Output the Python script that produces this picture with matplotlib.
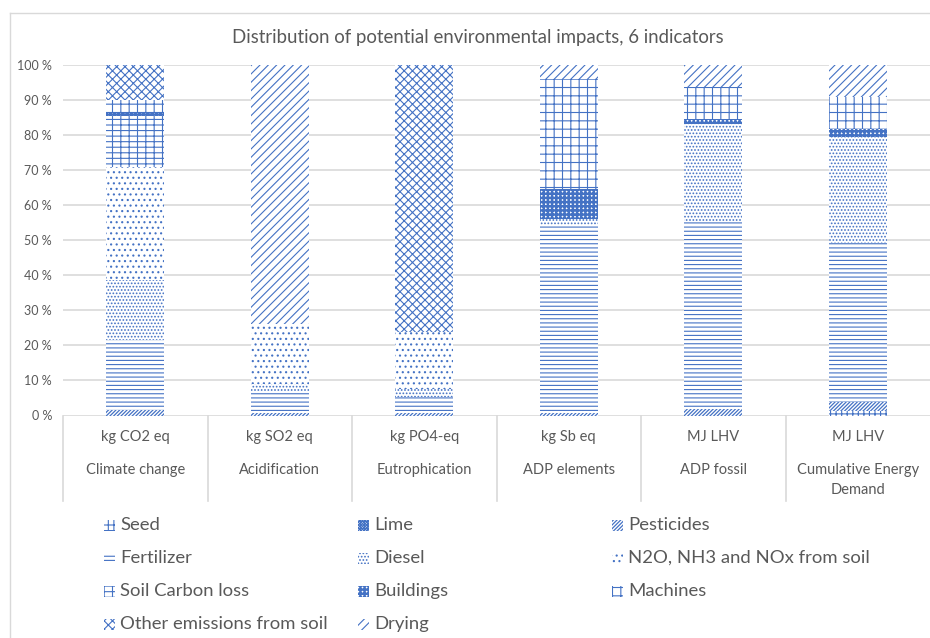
import matplotlib
matplotlib.use("Agg")
import matplotlib.pyplot as plt
from matplotlib.patches import Rectangle
from matplotlib.lines import Line2D
from matplotlib.transforms import blended_transform_factory
import numpy as np

# ---- data -------------------------------------------------------------
units = ["kg CO2 eq", "kg SO2 eq", "kg PO4-eq", "kg Sb eq", "MJ LHV", "MJ LHV"]
indicators = ["Climate change", "Acidification", "Eutrophication",
              "ADP elements", "ADP fossil", "Cumulative Energy\nDemand"]

sources = ["Seed", "Lime", "Pesticides", "Fertilizer", "Diesel",
           "N2O, NH3 and NOx from soil", "Soil Carbon loss", "Buildings",
           "Machines", "Other emissions from soil", "Drying"]

# share of each source per indicator, in percent
seed        = [0.0, 0.0, 0.0, 0.0, 0.0, 1.3]
lime        = [0.0, 0.0, 0.0, 0.0, 0.0, 0.0]
pesticides  = [1.6, 0.7, 0.8, 0.8, 1.8, 2.5]
fertilizer  = [19.8, 6.0, 4.4, 53.5, 53.7, 45.5]
diesel      = [17.2, 2.3, 2.3, 1.9, 27.8, 30.2]
soil_n      = [32.4, 17.2, 16.3, 0.0, 0.0, 0.0]
soil_carbon = [14.4, 0.0, 0.0, 0.0, 0.0, 0.0]
buildings   = [0.8, 0.0, 0.0, 8.3, 1.3, 2.1]
machines    = [3.8, 0.0, 0.0, 31.4, 9.2, 9.4]
other_soil  = [10.0, 0.0, 76.2, 0.0, 0.0, 0.0]
drying      = [0.0, 73.8, 0.0, 4.1, 6.2, 9.0]

series = [seed, lime, pesticides, fertilizer, diesel, soil_n,
          soil_carbon, buildings, machines, other_soil, drying]

y_ticks = [0, 10, 20, 30, 40, 50, 60, 70, 80, 90, 100]

# ---- styles -----------------------------------------------------------
BLUE = "#4472C4"
TEXT = "#595959"
GRID = "#D9D9D9"
FONT = "Lato"

hatches = ["+++", "xxxxxxxxxxxx", "/////////", "----", ".....", "...",
           "++-", "++++", "++", "xxxx", "////"]
hatch_lw = [0.8, 0.8, 0.9, 0.8, 0.8, 0.8, 0.8, 1.8, 0.8, 0.8, 0.8]

W, H = 930, 638
fig = plt.figure(figsize=(W / 100, H / 100), dpi=100)
plt.rcParams["hatch.linewidth"] = 0.8


def fx(px):
    return px / W


def fy(py):
    return 1 - py / H


ax_left, ax_right, ax_top, ax_bottom = 63, 930, 65, 415.5
ax = fig.add_axes([fx(ax_left), fy(ax_bottom), fx(ax_right - ax_left),
                   (ax_bottom - ax_top) / H])

x = np.arange(len(units))
bottom = np.zeros(len(units))
for vals, hatch, lw in zip(series, hatches, hatch_lw):
    with plt.rc_context({"hatch.linewidth": lw}):
        bars = ax.bar(x, vals, width=0.4, bottom=bottom, color="white",
                      edgecolor=BLUE, linewidth=0, hatch=hatch, zorder=3)
        for b in bars:
            if hasattr(b, "set_hatch_linewidth"):
                b.set_hatch_linewidth(lw)
    bottom = bottom + np.array(vals)

ax.set_xlim(-0.5, len(units) - 0.5)
ax.set_ylim(0, 100)
ax.set_yticks(y_ticks)
ax.set_yticklabels([f"{t} %" for t in y_ticks], fontfamily=FONT,
                   fontsize=9, color=TEXT)
ax.tick_params(axis="y", length=0, pad=8)
ax.set_xticks([])
for s in ax.spines.values():
    s.set_visible(False)
ax.grid(axis="y", color=GRID, linewidth=1.2, zorder=0)
ax.set_axisbelow(True)

# category separators under the plot area
for i in range(len(units)):
    ax.add_line(Line2D([i - 0.5, i - 0.5], [0, -24.5], color=GRID,
                       linewidth=1.2, clip_on=False))

tr = blended_transform_factory(ax.transData, fig.transFigure)
for i, (u, name) in enumerate(zip(units, indicators)):
    ax.text(i, fy(437), u, transform=tr, ha="center", va="center",
            fontfamily=FONT, fontsize=10.5, color=TEXT)
    ax.text(i, fy(463), name, transform=tr, ha="center", va="top",
            fontfamily=FONT, fontsize=10.5, color=TEXT, linespacing=1.5)

# title
fig.text(fx(478), fy(37), "Distribution of potential environmental impacts, 6 indicators",
         ha="center", va="center", fontfamily=FONT, fontsize=13.4, color=TEXT)

# chart frame
fig.add_artist(Line2D([fx(10), fx(10)], [fy(13), fy(640)], color=GRID,
                      linewidth=1.0, transform=fig.transFigure))
fig.add_artist(Line2D([fx(10), fx(935)], [fy(13), fy(13)], color=GRID,
                      linewidth=1.0, transform=fig.transFigure))

# legend, laid out in rows of three
col_icon = [104, 358, 612]
row_y = [525, 558, 591, 624]
icon = 11
for k, (label, hatch, lw) in enumerate(zip(sources, hatches, hatch_lw)):
    r, c = divmod(k, 3)
    x0, yc = col_icon[c], row_y[r]
    with plt.rc_context({"hatch.linewidth": lw}):
        p = Rectangle((fx(x0), fy(yc + icon / 2)), fx(icon), icon / H,
                      transform=fig.transFigure, facecolor="white",
                      edgecolor=BLUE, linewidth=0, hatch=hatch)
        if hasattr(p, "set_hatch_linewidth"):
            p.set_hatch_linewidth(lw)
    fig.add_artist(p)
    fig.text(fx(x0 + 16), fy(yc), label, ha="left", va="center",
             fontfamily=FONT, fontsize=13.3, color=TEXT)

fig.savefig("out.png", dpi=100)
